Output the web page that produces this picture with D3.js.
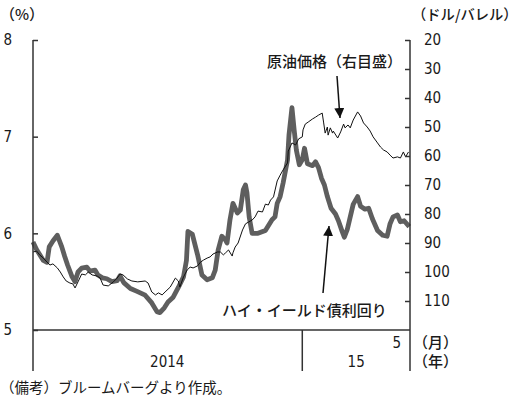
<!DOCTYPE html>
<html>
<head>
<meta charset="utf-8">
<script src="https://cdn.jsdelivr.net/npm/d3@7"></script>
<style>
  body { margin: 0; background: #fff; }
  .num { font-family: "Liberation Sans Narrow", "DejaVu Sans Condensed", "Liberation Sans", sans-serif; font-size: 15px; fill: #1a1a1a; }
  .jp { font-family: "Noto Sans CJK JP", sans-serif; font-size: 15px; font-weight: 500; fill: #1a1a1a; }
</style>
</head>
<body>
<script>
// ハイ・イールド債利回り (%), 左目盛
var hyDates = ["2014-01-01","2014-01-06","2014-01-15","2014-01-20","2014-01-23","2014-01-28","2014-02-03","2014-02-09","2014-02-13","2014-02-17",
  "2014-02-23","2014-02-27","2014-03-03","2014-03-08","2014-03-15","2014-03-19","2014-03-26","2014-03-30","2014-04-05","2014-04-11",
  "2014-04-18","2014-04-25","2014-04-29","2014-05-04","2014-05-13","2014-05-22","2014-06-02","2014-06-11","2014-06-18","2014-06-22",
  "2014-06-28","2014-07-03","2014-07-10","2014-07-17","2014-07-24","2014-07-28","2014-07-30","2014-08-05","2014-08-12","2014-08-18",
  "2014-08-25","2014-09-01","2014-09-05","2014-09-09","2014-09-14","2014-09-19","2014-09-21","2014-09-25","2014-09-29","2014-10-05",
  "2014-10-09","2014-10-13","2014-10-16","2014-10-18","2014-10-21","2014-10-25","2014-11-02","2014-11-12","2014-11-21","2014-11-25",
  "2014-11-28","2014-12-02","2014-12-06","2014-12-12","2014-12-14","2014-12-18","2014-12-21","2014-12-24","2014-12-28","2015-01-01",
  "2015-01-04","2015-01-08","2015-01-15","2015-01-19","2015-01-23","2015-01-27","2015-01-31","2015-02-04","2015-02-09","2015-02-15",
  "2015-02-19","2015-02-24","2015-02-27","2015-03-03","2015-03-07","2015-03-11","2015-03-17","2015-03-21","2015-03-27","2015-04-01",
  "2015-04-06","2015-04-13","2015-04-20","2015-04-26","2015-04-30","2015-05-04","2015-05-10","2015-05-14","2015-05-19","2015-05-26"];
var hyValues = [5.91,5.83,5.72,5.70,5.86,5.92,5.98,5.86,5.76,5.67,
  5.55,5.50,5.60,5.64,5.65,5.61,5.62,5.57,5.54,5.53,
  5.50,5.51,5.56,5.49,5.43,5.40,5.36,5.28,5.19,5.18,
  5.23,5.29,5.34,5.44,5.55,5.72,6.02,5.99,5.78,5.57,
  5.52,5.54,5.62,5.83,5.97,5.93,5.90,6.14,6.31,6.21,
  6.24,6.45,6.50,6.42,6.17,6.00,6.00,6.03,6.14,6.17,
  6.31,6.38,6.52,6.76,7.02,7.30,7.07,6.86,6.71,6.76,
  6.88,6.72,6.70,6.74,6.68,6.57,6.50,6.38,6.26,6.20,
  6.13,6.02,5.96,6.04,6.17,6.30,6.38,6.28,6.25,6.26,
  6.15,6.03,5.98,5.97,6.10,6.17,6.19,6.12,6.13,6.07];

// 原油価格 (ドル/バレル), 右目盛
var oilDates = ["2014-01-01","2014-01-06","2014-01-10","2014-01-15","2014-01-20","2014-01-24","2014-01-28","2014-02-03","2014-02-07","2014-02-11",
  "2014-02-15","2014-02-20","2014-02-24","2014-02-27","2014-03-03","2014-03-08","2014-03-13","2014-03-17","2014-03-22","2014-03-29",
  "2014-04-02","2014-04-06","2014-04-13","2014-04-20","2014-04-25","2014-04-29","2014-05-03","2014-05-09","2014-05-15","2014-05-23",
  "2014-06-02","2014-06-06","2014-06-11","2014-06-16","2014-06-20","2014-06-25","2014-06-29","2014-07-06","2014-07-13","2014-07-17",
  "2014-07-19","2014-07-24","2014-07-29","2014-08-02","2014-08-06","2014-08-12","2014-08-16","2014-08-20","2014-08-25","2014-08-29",
  "2014-09-02","2014-09-08","2014-09-12","2014-09-16","2014-09-19","2014-09-23","2014-09-28","2014-09-29","2014-10-02","2014-10-06",
  "2014-10-12","2014-10-16","2014-10-20","2014-10-25","2014-10-29","2014-11-02","2014-11-08","2014-11-12","2014-11-16","2014-11-19",
  "2014-11-23","2014-11-28","2014-12-02","2014-12-06","2014-12-12","2014-12-13","2014-12-18","2014-12-23","2014-12-27","2015-01-01",
  "2015-01-02","2015-01-05","2015-01-09","2015-01-15","2015-01-19","2015-01-23","2015-01-28","2015-01-30","2015-02-01","2015-02-04",
  "2015-02-05","2015-02-08","2015-02-11","2015-02-12","2015-02-18","2015-02-22","2015-02-26","2015-02-28","2015-03-04","2015-03-07",
  "2015-03-11","2015-03-17","2015-03-21","2015-03-25","2015-03-30","2015-04-03","2015-04-07","2015-04-13","2015-04-17","2015-04-21",
  "2015-04-26","2015-04-30","2015-05-04","2015-05-10","2015-05-14","2015-05-18","2015-05-21","2015-05-25"];
var oilValues = [93.1,92.8,94.1,95.2,96.6,97.6,97.2,98.6,100.0,101.7,
  103.1,103.8,104.1,105.5,103.4,100.7,101.0,100.0,101.0,101.4,
  102.1,104.5,104.8,103.4,102.1,100.7,101.0,102.4,103.1,103.4,
  103.1,103.8,106.9,107.9,107.2,107.9,106.9,105.2,102.1,103.1,
  105.2,101.7,99.3,98.3,98.6,97.9,96.6,95.9,95.2,94.8,
  93.8,93.1,93.1,94.1,93.4,92.4,94.5,93.4,91.4,90.0,
  85.5,83.4,82.8,82.1,81.0,79.0,79.3,76.6,76.9,75.2,
  74.1,68.6,66.6,64.8,62.4,58.3,55.5,56.2,54.1,53.4,
  51.0,49.0,48.3,47.2,46.6,45.9,45.2,48.6,52.1,50.0,
  52.8,50.3,52.1,51.4,53.8,51.7,49.0,50.3,49.3,50.3,
  47.6,44.8,46.2,48.6,50.0,51.4,53.4,55.5,56.9,57.9,
  58.6,59.7,60.7,60.3,60.7,58.6,60.3,58.6];

var leftTicks = [5, 6, 7, 8];
var rightTicks = [20, 30, 40, 50, 60, 70, 80, 90, 100, 110];
var monthLabels = [{ date: "2015-05-09", text: "5" }];
var yearLabels = [{ date: "2014-07-02", text: "2014" }, { date: "2015-03-15", text: "15" }];
var yearBreaks = ["2015-01-01"];

var width = 522, height = 401;
var plotLeft = 33, plotRight = 410, plotTop = 40, plotBottom = 330, axisEnd = 371;
var parse = d3.timeParse("%Y-%m-%d");

var svg = d3.select("body").append("svg")
  .attr("width", width)
  .attr("height", height);

var x = d3.scaleTime()
  .domain([parse("2014-01-01"), parse("2015-05-27")])
  .range([plotLeft, plotRight]);
var yL = d3.scaleLinear().domain([5, 8]).range([plotBottom, plotTop]);
var yR = d3.scaleLinear().domain([20, 120]).range([plotTop, plotBottom]);

// 線
var hy = hyDates.map(function(d, i) { return { date: parse(d), v: hyValues[i] }; });
var oil = oilDates.map(function(d, i) { return { date: parse(d), v: oilValues[i] }; });

svg.append("path")
  .datum(hy)
  .attr("fill", "none")
  .attr("stroke", "#5e5e5e")
  .attr("stroke-width", 4.8)
  .attr("stroke-linejoin", "round")
  .attr("d", d3.line().x(function(d) { return x(d.date); }).y(function(d) { return yL(d.v); }));

svg.append("path")
  .datum(oil)
  .attr("fill", "none")
  .attr("stroke", "#111")
  .attr("stroke-width", 1)
  .attr("d", d3.line().x(function(d) { return x(d.date); }).y(function(d) { return yR(d.v); }));

// 軸
var leftAxis = d3.axisLeft(yL).tickValues(leftTicks).tickSize(-5).tickPadding(21).tickFormat(d3.format("d"));
var rightAxis = d3.axisRight(yR).tickValues(rightTicks).tickSize(-5).tickPadding(14).tickFormat(d3.format("d"));

var gL = svg.append("g").attr("transform", "translate(" + plotLeft + ",0)").call(leftAxis);
var gR = svg.append("g").attr("transform", "translate(" + plotRight + ",0)").call(rightAxis);
[gL, gR].forEach(function(g) {
  g.select(".domain").remove();
  g.attr("font-family", null).attr("font-size", null);
  g.selectAll(".tick line").attr("stroke", "#333").attr("stroke-width", 1.5);
  g.selectAll(".tick text").attr("class", "num").attr("fill", null);
});

var frame = svg.append("g").attr("stroke", "#333").attr("stroke-width", 1.5);
frame.append("line").attr("x1", plotLeft).attr("x2", plotLeft).attr("y1", plotTop).attr("y2", axisEnd);
frame.append("line").attr("x1", plotRight).attr("x2", plotRight).attr("y1", plotTop).attr("y2", axisEnd);
frame.append("line").attr("x1", plotLeft).attr("x2", plotRight).attr("y1", plotBottom).attr("y2", plotBottom);
frame.selectAll(".yb").data(yearBreaks).enter().append("line")
  .attr("x1", function(d) { return x(parse(d)); })
  .attr("x2", function(d) { return x(parse(d)); })
  .attr("y1", plotBottom).attr("y2", axisEnd);

svg.selectAll(".ml").data(monthLabels).enter().append("text")
  .attr("class", "num")
  .attr("x", function(d) { return x(parse(d.date)); })
  .attr("y", 348)
  .attr("text-anchor", "middle")
  .text(function(d) { return d.text; });

svg.selectAll(".yl").data(yearLabels).enter().append("text")
  .attr("class", "num")
  .attr("x", function(d) { return x(parse(d.date)); })
  .attr("y", 367)
  .attr("text-anchor", "middle")
  .text(function(d) { return d.text; });

// 単位
svg.append("text").attr("class", "jp").attr("x", 0).attr("y", 20).text("（%）");
svg.append("text").attr("class", "jp").attr("x", 412).attr("y", 20).style("font-size", "14.3px").text("（ドル/バレル）");
svg.append("text").attr("class", "jp").attr("x", 413).attr("y", 348).text("（月）");
svg.append("text").attr("class", "jp").attr("x", 413).attr("y", 367).text("（年）");

// 注記と矢印
svg.append("defs").append("marker")
  .attr("id", "head")
  .attr("viewBox", "0 0 10 10")
  .attr("refX", 10).attr("refY", 5)
  .attr("markerWidth", 10).attr("markerHeight", 10)
  .attr("markerUnits", "userSpaceOnUse")
  .attr("orient", "auto")
  .append("path").attr("d", "M0,0L10,5L0,10Z").attr("fill", "#111");

svg.append("text").attr("class", "jp").attr("x", 267).attr("y", 67).text("原油価格（右目盛）");
svg.append("line")
  .attr("x1", 337).attr("y1", 76).attr("x2", 340).attr("y2", 118)
  .attr("stroke", "#111").attr("stroke-width", 1.5)
  .attr("marker-end", "url(#head)");

svg.append("text").attr("class", "jp").attr("x", 222).attr("y", 316).text("ハイ・イールド債利回り");
svg.append("line")
  .attr("x1", 323).attr("y1", 293).attr("x2", 329).attr("y2", 226)
  .attr("stroke", "#111").attr("stroke-width", 1.5)
  .attr("marker-end", "url(#head)");

svg.append("text").attr("class", "jp").attr("x", 0).attr("y", 393).style("font-size", "14.5px").style("font-weight", "normal")
  .text("（備考）ブルームバーグより作成。");
</script>
</body>
</html>
